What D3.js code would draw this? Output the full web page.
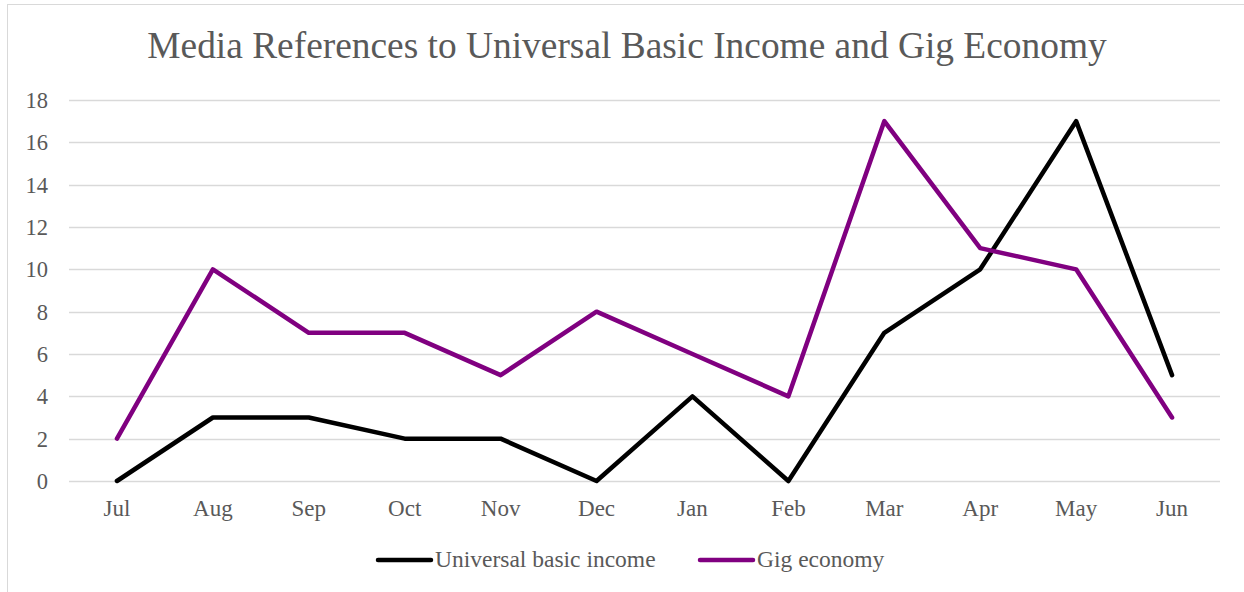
<!DOCTYPE html>
<html>
<head>
<meta charset="utf-8">
<script src="https://cdn.jsdelivr.net/npm/d3@7"></script>
<style>
  body { margin: 0; background: #fff; }
  svg { display: block; }
  svg text { font-family: "Liberation Serif", "Times New Roman", serif; fill: #595959; }
</style>
</head>
<body>
<div id="chart"></div>
<script>
const width = 1244;
const height = 592;

// data
const months = ["Jul", "Aug", "Sep", "Oct", "Nov", "Dec", "Jan", "Feb", "Mar", "Apr", "May", "Jun"];
const ubi = [0, 3, 3, 2, 2, 0, 4, 0, 7, 10, 17, 5];
const gig = [2, 10, 7, 7, 5, 8, 6, 4, 17, 11, 10, 3];
const yTicks = [0, 2, 4, 6, 8, 10, 12, 14, 16, 18];
const seriesNames = ["Universal basic income", "Gig economy"];
const seriesColors = ["#000000", "#800080"];

const svg = d3.select("#chart")
  .append("svg")
  .attr("width", width)
  .attr("height", height);

// outer border
svg.append("rect")
  .attr("x", 7.5)
  .attr("y", 4.5)
  .attr("width", width + 10)
  .attr("height", height + 10)
  .attr("fill", "#fff")
  .attr("stroke", "#d9d9d9");

svg.append("text")
  .text("Media References to Universal Basic Income and Gig Economy")
  .attr("x", 627)
  .attr("y", 58)
  .attr("text-anchor", "middle")
  .style("font-size", "37.4px");

const margin = { top: 100, right: 24, bottom: 111, left: 69 };
const chartWidth = width - margin.left - margin.right;
const chartHeight = height - margin.top - margin.bottom;

const xScale = d3.scaleBand().domain(months).range([0, chartWidth]);
const yScale = d3.scaleLinear().domain([0, 18]).range([chartHeight, 0]);

const inner = svg.append("g")
  .attr("transform", `translate(${margin.left},${margin.top})`);

// gridlines
inner.append("g")
  .selectAll("line")
  .data(yTicks)
  .join("line")
  .attr("x1", 0)
  .attr("x2", chartWidth)
  .attr("y1", d => Math.round(yScale(d)) + 0.5)
  .attr("y2", d => Math.round(yScale(d)) + 0.5)
  .attr("stroke", "#d9d9d9")
  .attr("stroke-width", 1.5);

// y labels
inner.append("g")
  .selectAll("text")
  .data(yTicks)
  .join("text")
  .text(d => d)
  .attr("x", -21)
  .attr("y", d => yScale(d) + 8)
  .attr("text-anchor", "end")
  .style("font-size", "22.5px");

// x labels
inner.append("g")
  .selectAll("text")
  .data(months)
  .join("text")
  .text(d => d)
  .attr("x", d => xScale(d) + xScale.bandwidth() / 2)
  .attr("y", chartHeight + 35)
  .attr("text-anchor", "middle")
  .style("font-size", "23px");

const line = d3.line()
  .x((d, i) => xScale(months[i]) + xScale.bandwidth() / 2)
  .y(d => yScale(d));

[ubi, gig].forEach((vals, i) => {
  inner.append("path")
    .datum(vals)
    .attr("d", line)
    .attr("fill", "none")
    .attr("stroke", seriesColors[i])
    .attr("stroke-width", 4.5)
    .attr("stroke-linejoin", "round")
    .attr("stroke-linecap", "round");
});

// legend
const legendX = [378, 700];
const legend = svg.append("g");
seriesNames.forEach((name, i) => {
  legend.append("line")
    .attr("x1", legendX[i])
    .attr("x2", legendX[i] + 53)
    .attr("y1", 560)
    .attr("y2", 560)
    .attr("stroke", seriesColors[i])
    .attr("stroke-width", 4.5)
    .attr("stroke-linecap", "round");
  legend.append("text")
    .text(name)
    .attr("x", legendX[i] + 57)
    .attr("y", 567)
    .style("font-size", "23.5px");
});
</script>
</body>
</html>
